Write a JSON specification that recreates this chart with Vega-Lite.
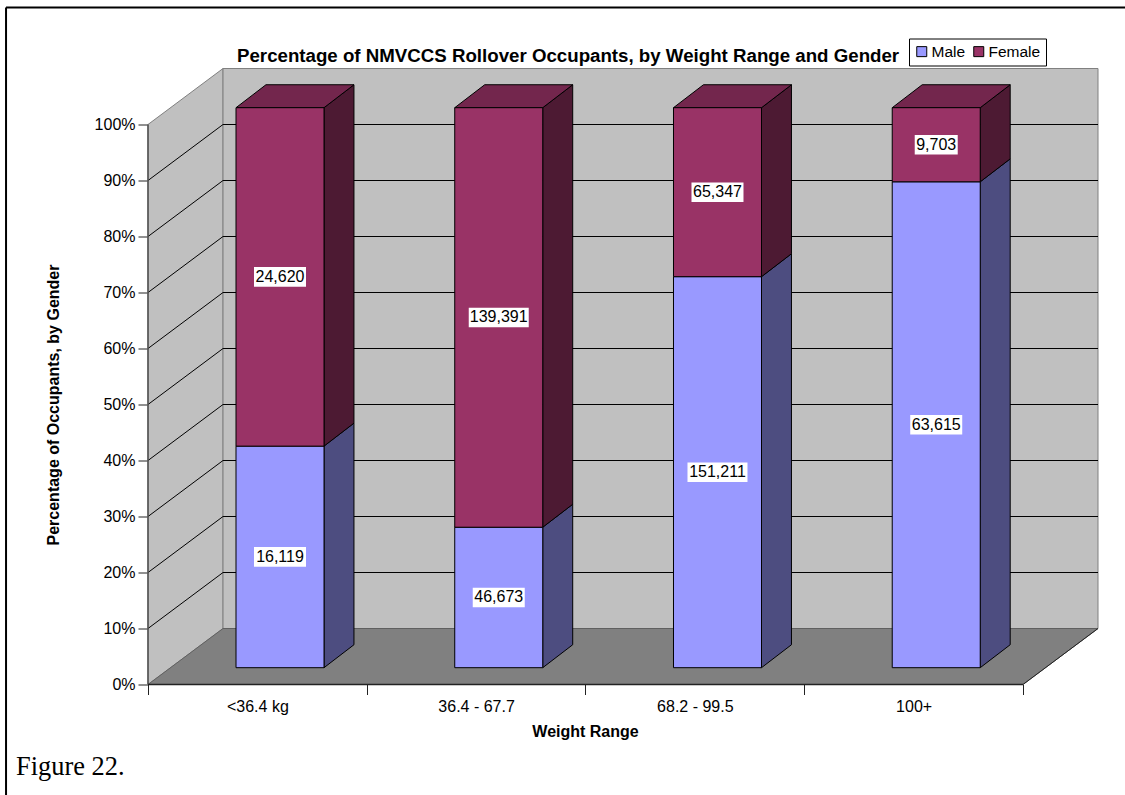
{
"$schema":"https://vega.github.io/schema/vega-lite/v6.json",
"width":950,"height":616,
"autosize":{"type":"none"},
"padding":{"left":148,"top":68.5,"right":27,"bottom":110.5},
"background":"white",
"title":{"text":"Percentage of NMVCCS Rollover Occupants, by Weight Range and Gender","font":"Liberation Sans","fontSize":18.7,"fontWeight":"bold","color":"black","anchor":"start","frame":"group","dx":89,"dy":65,"offset":6},
"config":{"view":{"stroke":null},"font":"Liberation Sans"},
"data":{"values":[
{"range":"<36.4 kg","idx":0,"gender":"Male","order":0,"count":16119},
{"range":"<36.4 kg","idx":0,"gender":"Female","order":1,"count":24620},
{"range":"36.4 - 67.7","idx":1,"gender":"Male","order":0,"count":46673},
{"range":"36.4 - 67.7","idx":1,"gender":"Female","order":1,"count":139391},
{"range":"68.2 - 99.5","idx":2,"gender":"Male","order":0,"count":151211},
{"range":"68.2 - 99.5","idx":2,"gender":"Female","order":1,"count":65347},
{"range":"100+","idx":3,"gender":"Male","order":0,"count":63615},
{"range":"100+","idx":3,"gender":"Female","order":1,"count":9703}
]},
"transform":[
{"stack":"count","groupby":["range"],"sort":[{"field":"order","order":"ascending"}],"offset":"normalize","as":["s0","s1"]},
{"calculate":"datum.idx+0.4023","as":"xL"},
{"calculate":"datum.idx+0.8046","as":"xR"},
{"calculate":"3+100*datum.s0","as":"yB"},
{"calculate":"3+100*datum.s1","as":"yT"}
],
"layer":[
{"data":{"values":[{"x":0,"y":0,"y2":100},{"x":0.343,"y":10,"y2":110}]},
 "mark":{"type":"area","fill":"#C0C0C0","stroke":"#808080","strokeWidth":1,"orient":"vertical"},
 "encoding":{
  "x":{"field":"x","type":"quantitative","scale":{"domain":[0,4.343],"nice":false,"zero":false},
   "axis":{"values":[0,0.5,1,1.5,2,2.5,3,3.5,4],"grid":false,"domain":false,"tickSize":10,"tickColor":"#222222","tickOpacity":{"condition":{"test":"datum.value % 1 != 0","value":0},"value":1},"labelExpr":"datum.value==0.5?'<36.4 kg':datum.value==1.5?'36.4 - 67.7':datum.value==2.5?'68.2 - 99.5':datum.value==3.5?'100+':''","labelFont":"Liberation Sans","labelFontSize":16,"labelColor":"black","labelPadding":4,"labelOverlap":false,"labelFlush":false,"title":"Weight Range","titleFont":"Liberation Sans","titleFontSize":16,"titleFontWeight":"bold","titleColor":"black","titleX":437,"titleY":39}},
  "y":{"field":"y","type":"quantitative","scale":{"domain":[0,110],"nice":false,"zero":false},
   "axis":{"values":[0,10,20,30,40,50,60,70,80,90,100],"grid":false,"domain":false,"tickSize":10,"tickColor":"#222222","labelExpr":"datum.value+'%'","labelFont":"Liberation Sans","labelFontSize":16,"labelColor":"black","labelPadding":3,"title":"Percentage of Occupants, by Gender","titleFont":"Liberation Sans","titleFontSize":16,"titleFontWeight":"bold","titleColor":"black","titleX":-87,"titleY":336}},
  "y2":{"field":"y2"}}},
{"data":{"values":[{"x":0.343,"x2":4.343,"y":10,"y2":110}]},
 "mark":{"type":"rect","fill":"#C0C0C0","stroke":"#808080","strokeWidth":1},
 "encoding":{"x":{"field":"x","type":"quantitative"},"x2":{"field":"x2"},"y":{"field":"y","type":"quantitative"},"y2":{"field":"y2"}}},
{"data":{"values":[{"y":0,"x":0,"x2":4},{"y":10,"x":0.343,"x2":4.343}]},
 "mark":{"type":"area","fill":"#808080","stroke":"#606060","strokeWidth":1,"orient":"horizontal"},
 "encoding":{"y":{"field":"y","type":"quantitative"},"x":{"field":"x","type":"quantitative"},"x2":{"field":"x2"}}},
{"data":{"values":[{"a":4,"a2":4.343,"b":0,"b2":10}]},
 "mark":{"type":"rule","color":"#222222","strokeWidth":1},
 "encoding":{"x":{"field":"a","type":"quantitative"},"x2":{"field":"a2"},"y":{"field":"b","type":"quantitative"},"y2":{"field":"b2"}}},
{"data":{"values":[{"v":10,"v2":20},{"v":20,"v2":30},{"v":30,"v2":40},{"v":40,"v2":50},{"v":50,"v2":60},{"v":60,"v2":70},{"v":70,"v2":80},{"v":80,"v2":90},{"v":90,"v2":100},{"v":0,"v2":10}]},
 "layer":[
 {"transform":[{"filter":"datum.v>0"}],"mark":{"type":"rule","color":"black","strokeWidth":1},
  "encoding":{"x":{"datum":0,"type":"quantitative"},"x2":{"datum":0.343},"y":{"field":"v","type":"quantitative"},"y2":{"field":"v2"}}},
 {"transform":[{"filter":"datum.v>0"}],"mark":{"type":"rule","color":"black","strokeWidth":1},
  "encoding":{"x":{"datum":0.343,"type":"quantitative"},"x2":{"datum":4.343},"y":{"field":"v2","type":"quantitative"}}}
 ]},
{"data":{"values":[{"x":0,"y":0,"y2":100}]},
 "mark":{"type":"rule","color":"#505050","strokeWidth":1.5},
 "encoding":{"x":{"field":"x","type":"quantitative"},"y":{"field":"y","type":"quantitative"},"y2":{"field":"y2"}}},
{"data":{"values":[{"x":0,"x2":4,"y":0}]},
 "mark":{"type":"rule","color":"#222222","strokeWidth":1.5},
 "encoding":{"x":{"field":"x","type":"quantitative"},"x2":{"field":"x2"},"y":{"field":"y","type":"quantitative"}}},
{"transform":[{"calculate":"[0,1]","as":"d"},{"flatten":["d"]},{"calculate":"datum.xR+datum.d*0.137","as":"px"},{"calculate":"datum.yB+datum.d*4.1","as":"p0"},{"calculate":"datum.yT+datum.d*4.1","as":"p1"}],
 "mark":{"type":"area","stroke":"black","strokeWidth":1,"orient":"vertical"},
 "encoding":{"x":{"field":"px","type":"quantitative"},"y":{"field":"p0","type":"quantitative"},"y2":{"field":"p1"},"detail":[{"field":"range"},{"field":"gender"}],
  "fill":{"condition":{"test":"datum.gender=='Male'","value":"#4D4D80"},"value":"#4D1A33"}}},
{"transform":[{"filter":"datum.gender=='Female'"},{"calculate":"[0,1]","as":"d"},{"flatten":["d"]},{"calculate":"datum.xL+datum.d*0.137","as":"p0"},{"calculate":"datum.xR+datum.d*0.137","as":"p1"},{"calculate":"datum.yT+datum.d*4.1","as":"py"}],
 "mark":{"type":"area","fill":"#73264D","stroke":"black","strokeWidth":1,"orient":"horizontal"},
 "encoding":{"y":{"field":"py","type":"quantitative"},"x":{"field":"p0","type":"quantitative"},"x2":{"field":"p1"},"detail":{"field":"range"}}},
{"mark":{"type":"rect","stroke":"black","strokeWidth":1},
 "encoding":{"x":{"field":"xL","type":"quantitative"},"x2":{"field":"xR"},"y":{"field":"yB","type":"quantitative"},"y2":{"field":"yT"},
  "color":{"field":"gender","type":"nominal","scale":{"domain":["Male","Female"],"range":["#9999FF","#993366"]},
   "legend":{"orient":"none","legendX":761,"legendY":-30,"direction":"horizontal","columns":2,"title":null,"fillColor":"white","strokeColor":"black","padding":5,"symbolType":"square","symbolSize":100,"symbolStrokeColor":"black","symbolStrokeWidth":1,"symbolOpacity":1,"labelFont":"Liberation Sans","labelFontSize":15.5,"labelColor":"black","labelOffset":2,"columnPadding":5}}}},
{"transform":[{"calculate":"datum.count<10000?43:datum.count<100000?52:60","as":"boxPx"},{"calculate":"(datum.xL+datum.xR)/2-datum.boxPx/437.5","as":"b0"},{"calculate":"(datum.xL+datum.xR)/2+datum.boxPx/437.5","as":"b1"},{"calculate":"(datum.yB+datum.yT)/2-1.75","as":"c0"},{"calculate":"(datum.yB+datum.yT)/2+1.75","as":"c1"}],
 "mark":{"type":"rect","fill":"white"},
 "encoding":{"x":{"field":"b0","type":"quantitative"},"x2":{"field":"b1"},"y":{"field":"c0","type":"quantitative"},"y2":{"field":"c1"}}},
{"transform":[{"calculate":"(datum.xL+datum.xR)/2","as":"mx"},{"calculate":"(datum.yB+datum.yT)/2","as":"my"}],
 "mark":{"type":"text","font":"Liberation Sans","fontSize":16,"color":"black","baseline":"middle","align":"center"},
 "encoding":{"x":{"field":"mx","type":"quantitative"},"y":{"field":"my","type":"quantitative"},"text":{"field":"count","type":"quantitative","format":","}}},
{"data":{"values":[{"caption":"Figure 22.","x":-0.603,"y":-16.16}]},
 "mark":{"type":"text","font":"Liberation Serif","fontSize":26.4,"color":"black","align":"left","baseline":"alphabetic"},
 "encoding":{"x":{"field":"x","type":"quantitative"},"y":{"field":"y","type":"quantitative"},"text":{"field":"caption"}}},
{"data":{"values":[{"x":-0.649,"x2":4.47,"y":-20,"y2":120.9}]},
 "layer":[
 {"mark":{"type":"rule","color":"black","strokeWidth":2},"encoding":{"x":{"field":"x","type":"quantitative"},"y":{"field":"y","type":"quantitative"},"y2":{"field":"y2"}}},
 {"mark":{"type":"rule","color":"black","strokeWidth":2},"encoding":{"x":{"field":"x","type":"quantitative"},"x2":{"field":"x2"},"y":{"field":"y2","type":"quantitative"}}}
 ]}
]
}
